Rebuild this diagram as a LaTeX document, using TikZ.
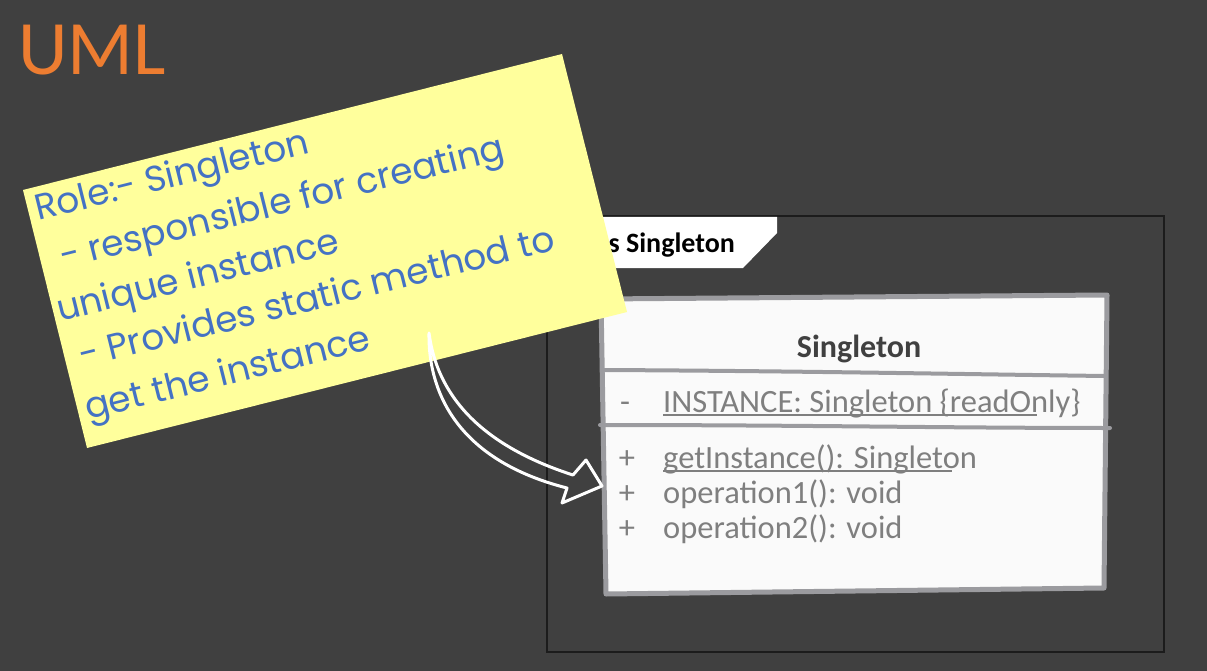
\documentclass[tikz,border=0pt]{standalone}
\usepackage{fontspec}
\setmainfont{Carlito}
\newfontfamily\hand{Poppins}
\definecolor{bg}{RGB}{64,64,64}
\definecolor{umlorange}{HTML}{ED7D31}
\definecolor{noteyellow}{HTML}{FFFF9C}
\definecolor{inkblue}{HTML}{4472C4}
\definecolor{boxline}{HTML}{9B9B9F}
\definecolor{boxfill}{HTML}{FAFAFA}
\definecolor{txtgray}{HTML}{7F7F7F}
\definecolor{titlegray}{HTML}{404040}
\definecolor{framecol}{HTML}{1C1C1C}
\begin{document}
\begin{tikzpicture}[x=1pt,y=-1pt,
  handtext/.style={font=\hand\fontsize{36}{40}\selectfont, text=inkblue, anchor=base west, rotate=14, inner sep=0pt},
  membertext/.style={font=\fontsize{32.5}{36}\selectfont, text=txtgray, anchor=base west, inner sep=0pt},
  sepline/.style={draw=boxline, line width=4pt, line cap=round},
  uline/.style={draw=txtgray, line width=1.4pt},
  arrowline/.style={draw=white, line width=3pt, line join=round, line cap=round}]
\useasboundingbox (0,0) rectangle (1207,671);
\fill[bg] (0,0) rectangle (1207,671);
% title
\node[font=\fontsize{77}{80}\selectfont, text=umlorange, anchor=base west, inner sep=0pt] (uml) at (18,75) {UML};
% frame and tab
\draw[framecol, line width=1.5pt] (547,216) rectangle (1164,652);
\fill[white] (548,217) -- (777,217) -- (777,233) -- (743,268) -- (548,268) -- cycle;
\node[font=\bfseries\fontsize{28}{32}\selectfont, text=black, anchor=base east, inner sep=0pt] (tab) at (735,252) {class Singleton};
% class box
\draw[boxline, line width=5pt, fill=boxfill, line join=round] (601,299) -- (1107,295) -- (1104,588) -- (606,594) -- cycle;
\node[font=\bfseries\fontsize{32}{36}\selectfont, text=titlegray, anchor=base, inner sep=0pt] (cname) at (859,357) {Singleton};
\draw[sepline] (603,370) .. controls (800,371) and (950,374) .. (1105,376);
\draw[sepline] (600,425) .. controls (800,425) and (950,428) .. (1110,428);
\node[membertext, anchor=base] (m0) at (625,412) {-};
\node[membertext] (attr) at (663,412) {INSTANCE: Singleton \{readOnly\}};
\draw[uline] (663,415) -- (1037,415);
\node[membertext, anchor=base] (p1) at (627,468) {+};
\node[membertext] (op0) at (663,468) {getInstance(): Singleton};
\draw[uline] (663,471) -- (952,471);
\node[membertext, anchor=base] (p2) at (627,503) {+};
\node[membertext] (op1) at (663,503) {operation1(): void};
\node[membertext, anchor=base] (p3) at (627,538) {+};
\node[membertext] (op2) at (663,538) {operation2(): void};
% sticky note
\fill[noteyellow] (23,190) coordinate (ntl) -- (562,54) coordinate (ntr) -- (627,312) coordinate (nbr) -- (87,448) coordinate (nbl) -- cycle;
\node[handtext] (l1) at (38,221) {Role:- Singleton};
\node[handtext] (l2) at (63,269) {- responsible for creating};
\node[handtext] (l3) at (60,322) {unique instance};
\node[handtext] (l4) at (82,368) {- Provides static method to};
\node[handtext] (l5) at (88,420) {get the instance};
% arrow
\coordinate (tail) at (429,333);
\coordinate (uj) at (573,475);
\coordinate (ht) at (586,460);
\coordinate (tip) at (602,486);
\coordinate (hb) at (562,503);
\coordinate (lj) at (567,488);
\draw[arrowline] (tail) .. controls (437,395) and (480,445) .. (uj) -- (ht) -- (tip) -- (hb) -- (lj) .. controls (465,462) and (428,400) .. (tail);
\end{tikzpicture}
\end{document}
